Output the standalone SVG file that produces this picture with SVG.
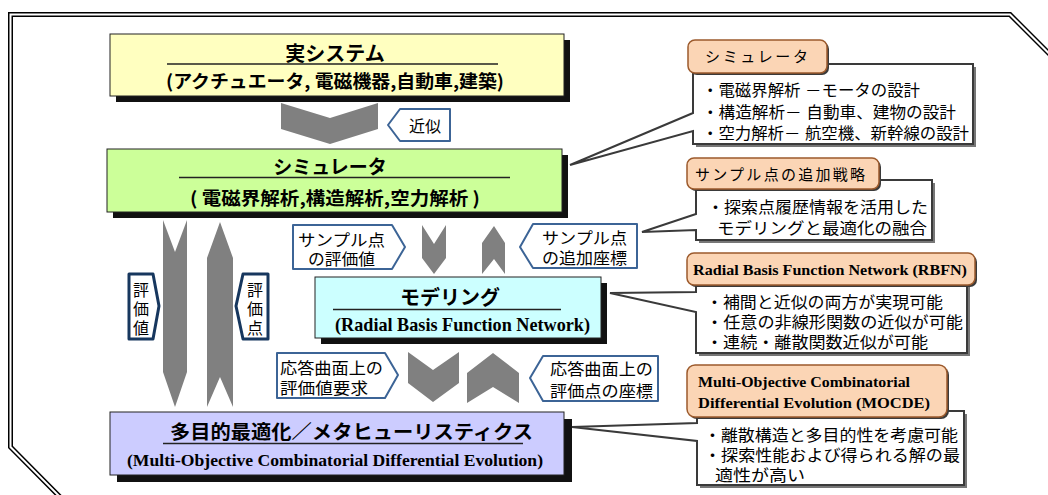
<svg xmlns="http://www.w3.org/2000/svg" width="1048" height="495" viewBox="0 0 1048 495">
<style>
.jp{font-family:"Liberation Sans","Noto Sans CJK JP",sans-serif;}
.jb{font-family:"Noto Sans CJK JP","Noto Sans",sans-serif;font-weight:bold;}
.en{font-family:"Liberation Serif","Times New Roman",serif;font-weight:bold;}
.box{stroke:#222;stroke-width:1;}
.shadow{fill:#111;}
.uline{stroke:#222;stroke-width:1.5;}
.arr{fill:#808080;stroke:none;}
.lbl{fill:#fff;stroke:#3C6496;stroke-width:2;stroke-linejoin:round;}
.vlbl{fill:#fff;stroke:#17375E;stroke-width:3;stroke-linejoin:round;}
.hdr{fill:#FBD5B5;stroke:#9C5A2C;stroke-width:1.5;}
.hsh{fill:#3a3a3a;}
.body{fill:#fff;stroke:#3a3a3a;stroke-width:2;stroke-linejoin:miter;}
.bsh{fill:#777;}
.t15{font-size:15px;fill:#000;}
.t16{font-size:16px;fill:#000;}
</style>

<!-- outer frame -->
<path d="M62,499 L10.5,447 L10.5,14.5 L1010,14.5 L1055,59.5" fill="none" stroke="#000" stroke-width="5"/>
<path d="M62,499 L10.5,447 L10.5,14.5 L1010,14.5 L1055,59.5" fill="none" stroke="#fff" stroke-width="2"/>

<g id="connectors">
  <polygon class="arr" points="281,103 330,118 378,103 378,129 330,144 281,129"/>
  <polygon class="arr" points="163,220 175,252 187,220 187,372 175,407 163,372"/>
  <polygon class="arr" points="220,222 233,258 233,407 220,377 207,407 207,258"/>
  <polygon class="arr" points="422,225 434,244 446,225 446,258 434,274 422,258"/>
  <polygon class="arr" points="494,226 505,243 505,274 494,259 482,274 482,243"/>
  <polygon class="arr" points="408,352 433,370 459,352 459,383 433,402 408,383"/>
  <polygon class="arr" points="493,353 519,373 519,403 493,387 467,403 467,373"/>
</g>

<g id="node-real">
  <rect class="shadow" x="116" y="40" width="454" height="62"/>
  <rect class="box" x="110" y="34" width="454" height="62" fill="#FFFFC0"/>
  <text class="jb" x="335" y="61" font-size="20" text-anchor="middle">実システム</text>
  <line class="uline" x1="167" y1="64" x2="498" y2="64"/>
  <text class="jb" x="166" y="88" font-size="18" textLength="338" lengthAdjust="spacingAndGlyphs">(アクチュエータ, 電磁機器,自動車,建築)</text>
</g>

<g id="node-sim">
  <rect class="shadow" x="113" y="155" width="455" height="63"/>
  <rect class="box" x="107" y="149" width="455" height="63" fill="#CCFF99"/>
  <text class="jb" x="330" y="174" font-size="19" text-anchor="middle">シミュレータ</text>
  <line class="uline" x1="179" y1="177.5" x2="510" y2="177.5"/>
  <text class="jb" x="190" y="205" font-size="18" textLength="290" lengthAdjust="spacingAndGlyphs">( 電磁界解析,構造解析,空力解析 )</text>
</g>

<g id="node-model">
  <rect class="shadow" x="321" y="283" width="286" height="61"/>
  <rect class="box" x="315" y="277" width="286" height="61" fill="#CCFFFF"/>
  <text class="jb" x="450" y="305" font-size="20" text-anchor="middle">モデリング</text>
  <line class="uline" x1="333" y1="309.5" x2="561" y2="309.5"/>
  <text class="en" x="335" y="331" font-size="19" textLength="255" lengthAdjust="spacingAndGlyphs">(Radial Basis Function Network)</text>
</g>

<g id="node-opt">
  <rect class="shadow" x="117" y="419" width="455" height="63"/>
  <rect class="box" x="110" y="412" width="454" height="63" fill="#CCCCFF"/>
  <text class="jb" x="170" y="439" font-size="19" textLength="363" lengthAdjust="spacingAndGlyphs">多目的最適化／メタヒューリスティクス</text>
  <line class="uline" x1="163" y1="443.5" x2="523" y2="443.5"/>
  <text class="en" x="127" y="466" font-size="17" textLength="416" lengthAdjust="spacingAndGlyphs">(Multi-Objective  Combinatorial  Differential  Evolution)</text>
</g>

<g id="label-kinji">
  <polygon class="lbl" points="388,125 400,109 450,109 450,141 400,141"/>
  <text class="jp t16" x="425" y="132" font-size="17" text-anchor="middle">近似</text>
</g>

<g id="label-hyokachi">
  <polygon class="vlbl" points="129,274 153,274 159,306 153,339 129,339"/>
  <text class="jp t16" text-anchor="middle"><tspan x="141" y="296">評</tspan><tspan x="141" y="315">価</tspan><tspan x="141" y="334">値</tspan></text>
</g>

<g id="label-hyokaten">
  <polygon class="vlbl" points="268,274 243,274 236,306 243,339 268,339"/>
  <text class="jp t16" text-anchor="middle"><tspan x="255" y="296">評</tspan><tspan x="255" y="315">価</tspan><tspan x="255" y="334">点</tspan></text>
</g>

<g id="label-sample-val">
  <polygon class="lbl" points="293,225 392,225 405,247 392,269 293,269"/>
  <text class="jp t16"><tspan x="298" y="246" textLength="87" lengthAdjust="spacingAndGlyphs">サンプル点</tspan><tspan x="308" y="265" textLength="67" lengthAdjust="spacingAndGlyphs">の評価値</tspan></text>
</g>

<g id="label-sample-add">
  <polygon class="lbl" points="520,247 533,224 637,224 637,268 533,268"/>
  <text class="jp t16"><tspan x="542" y="244" textLength="85" lengthAdjust="spacingAndGlyphs">サンプル点</tspan><tspan x="542" y="264" textLength="85" lengthAdjust="spacingAndGlyphs">の追加座標</tspan></text>
</g>

<g id="label-resp-req">
  <polygon class="lbl" points="277,353 385,353 398,375 385,398 277,398"/>
  <text class="jp t16"><tspan x="280" y="374" textLength="103" lengthAdjust="spacingAndGlyphs">応答曲面上の</tspan><tspan x="280" y="394" textLength="88" lengthAdjust="spacingAndGlyphs">評価値要求</tspan></text>
</g>

<g id="label-resp-coord">
  <polygon class="lbl" points="530,378 543,356 658,356 658,401 543,401"/>
  <text class="jp t16"><tspan x="550" y="375" textLength="103" lengthAdjust="spacingAndGlyphs">応答曲面上の</tspan><tspan x="550" y="397" textLength="103" lengthAdjust="spacingAndGlyphs">評価点の座標</tspan></text>
</g>

<g id="callout-sim">
  <rect class="bsh" x="696" y="67" width="280" height="80"/>
  <path class="body" d="M693,64 H973 V144 H693 V131 L570,165 L693,113 Z"/>
  <rect class="hsh" x="690" y="42" width="139" height="33" rx="7"/>
  <rect class="hdr" x="688" y="40" width="139" height="33" rx="7"/>
  <text class="jp t15" x="705" y="62" textLength="103" lengthAdjust="spacing">シミュレータ</text>
  <text class="jp t16"><tspan x="702" y="96" textLength="218" lengthAdjust="spacingAndGlyphs">・電磁界解析 －モータの設計</tspan><tspan x="702" y="118" textLength="254" lengthAdjust="spacingAndGlyphs">・構造解析－ 自動車、建物の設計</tspan><tspan x="702" y="139" textLength="267" lengthAdjust="spacingAndGlyphs">・空力解析－ 航空機、新幹線の設計</tspan></text>
</g>

<g id="callout-sample">
  <rect class="bsh" x="699" y="183" width="236" height="60"/>
  <path class="body" d="M696,180 H932 V240 H696 V230 L642,232 L696,214 Z"/>
  <rect class="hsh" x="689" y="160" width="192" height="31" rx="7"/>
  <rect class="hdr" x="687" y="158" width="192" height="31" rx="7"/>
  <text class="jp t15" x="695" y="180" textLength="170" lengthAdjust="spacing">サンプル点の追加戦略</text>
  <text class="jp t16"><tspan x="707" y="213" textLength="221" lengthAdjust="spacingAndGlyphs">・探索点履歴情報を活用した</tspan><tspan x="717" y="234" textLength="210" lengthAdjust="spacingAndGlyphs">モデリングと最適化の融合</tspan></text>
</g>

<g id="callout-rbfn">
  <rect class="bsh" x="699" y="281" width="271" height="75"/>
  <path class="body" d="M696,278 H967 V353 H696 V312 L610,293 L696,292 Z"/>
  <rect class="hsh" x="689" y="255" width="288" height="32" rx="7"/>
  <rect class="hdr" x="687" y="253" width="288" height="32" rx="7"/>
  <text class="en" x="693" y="275" font-size="15" textLength="274" lengthAdjust="spacingAndGlyphs">Radial Basis Function Network (RBFN)</text>
  <text class="jp t16"><tspan x="706" y="308" textLength="237" lengthAdjust="spacingAndGlyphs">・補間と近似の両方が実現可能</tspan><tspan x="706" y="328" textLength="257" lengthAdjust="spacingAndGlyphs">・任意の非線形関数の近似が可能</tspan><tspan x="706" y="348" textLength="222" lengthAdjust="spacingAndGlyphs">・連続・離散関数近似が可能</tspan></text>
</g>

<g id="callout-mocde">
  <rect class="bsh" x="700" y="414" width="267" height="74"/>
  <path class="body" d="M697,411 H964 V485 H697 V441 L572,427 L697,423 Z"/>
  <rect class="hsh" x="689" y="367" width="260" height="52" rx="8"/>
  <rect class="hdr" x="687" y="365" width="260" height="52" rx="8"/>
  <text class="en" font-size="15"><tspan x="698" y="387" textLength="212" lengthAdjust="spacingAndGlyphs">Multi-Objective  Combinatorial</tspan><tspan x="698" y="408" textLength="232" lengthAdjust="spacingAndGlyphs">Differential  Evolution  (MOCDE)</tspan></text>
  <text class="jp t16"><tspan x="704" y="441" textLength="254" lengthAdjust="spacingAndGlyphs">・離散構造と多目的性を考慮可能</tspan><tspan x="704" y="461" textLength="256" lengthAdjust="spacingAndGlyphs">・探索性能および得られる解の最</tspan><tspan x="715" y="481" textLength="90" lengthAdjust="spacingAndGlyphs">適性が高い</tspan></text>
</g>
</svg>
